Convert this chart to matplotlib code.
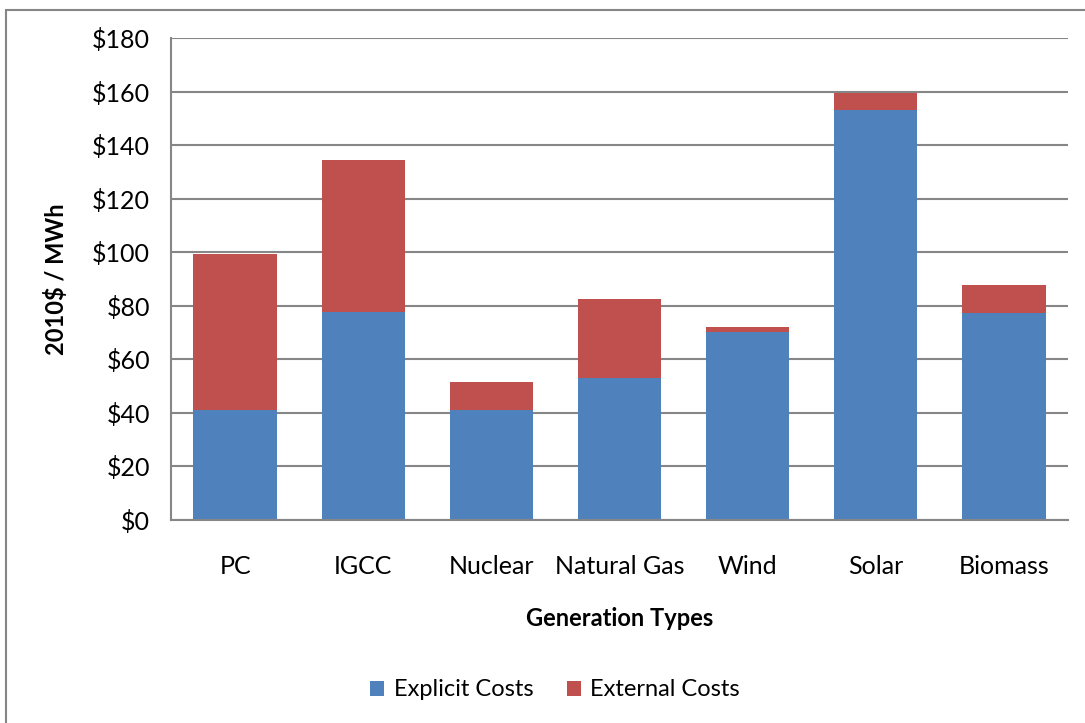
import numpy as np
import matplotlib
matplotlib.use("Agg")
from matplotlib import pyplot as plt
from matplotlib.patches import Rectangle

## DATA

categories = ['PC', 'IGCC', 'Nuclear', 'Natural Gas', 'Wind', 'Solar', 'Biomass']
explicit = [41.1, 77.6, 41.0, 52.9, 70.1, 153.2, 77.4]
external = [58.1, 56.7, 10.4, 29.7, 2.1, 6.2, 10.4]
yticks = [0, 20, 40, 60, 80, 100, 120, 140, 160, 180]

BLUE = '#4F81BD'
RED = '#C0504D'
GRID = '#868686'

plt.rcParams['font.family'] = ['Lato', 'DejaVu Sans']

fig = plt.figure(figsize=(10.85, 7.23), dpi=100)
ax = fig.add_axes([171/1085, 1 - 520/723, (1068 - 171)/1085, (520 - 38)/723])

# outer chart border
fig.patches.append(Rectangle((6/1085, -0.01), 1.1, 1 - 10/723 + 0.01,
                             transform=fig.transFigure, fill=False,
                             edgecolor=GRID, linewidth=1.5))

x = np.arange(len(categories))
w = 0.65
ax.bar(x, explicit, w, color=BLUE, label='Explicit Costs', zorder=3)
ax.bar(x, external, w, bottom=explicit, color=RED, label='External Costs', zorder=3)

ax.set_xlim(-0.5, len(categories) - 0.5)
ax.set_ylim(0, 180)
ax.set_yticks(yticks)
ax.set_yticklabels(['$%d' % v for v in yticks])
ax.set_xticks(x)
ax.set_xticklabels(categories)
ax.tick_params(axis='both', length=0, labelsize=18, colors='black')
ax.tick_params(axis='y', pad=15)
ax.tick_params(axis='x', pad=25)
ax.grid(axis='y', color=GRID, linewidth=1.5, zorder=0)

for s in ['top', 'right']:
    ax.spines[s].set_visible(False)
ax.spines['left'].set_color(GRID)
ax.spines['bottom'].set_color(GRID)
ax.spines['left'].set_linewidth(1.5)
ax.spines['bottom'].set_linewidth(1.5)
ax.spines['bottom'].set_zorder(4)

ax.set_xlabel('Generation Types', fontsize=17, fontweight='bold', labelpad=21)
ax.set_ylabel('2010$ / MWh', fontsize=17, fontweight='bold', labelpad=17)

ax.legend(loc='center', bbox_to_anchor=(555/1085, 1 - 690/723),
          bbox_transform=fig.transFigure, ncol=2, frameon=False,
          fontsize=17, handlelength=0.6, handleheight=0.6,
          columnspacing=1.4, handletextpad=0.4)

fig.savefig('out.png', dpi=100)
